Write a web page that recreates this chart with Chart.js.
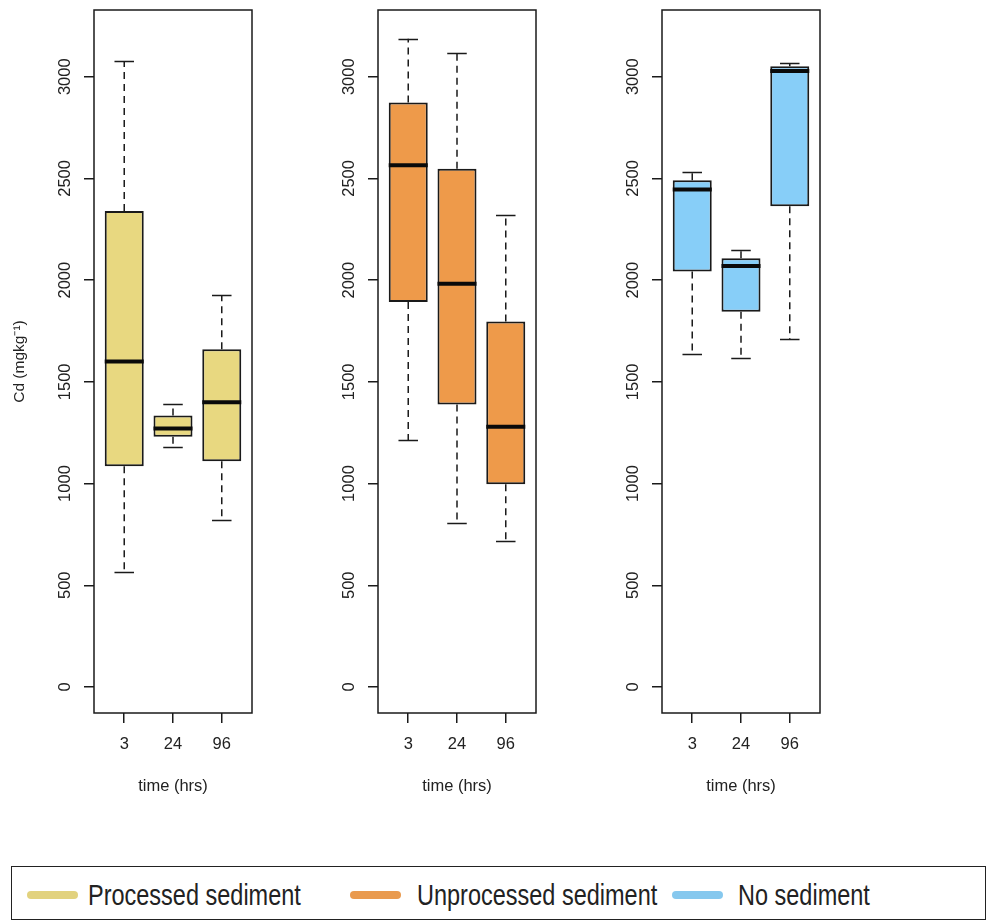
<!DOCTYPE html>
<html>
<head>
<meta charset="utf-8">
<script src="https://cdn.jsdelivr.net/npm/chart.js@4.4.1/dist/chart.umd.min.js"></script>
<style>
  html, body { margin: 0; padding: 0; background: #fff; }
  #wrap { position: relative; width: 991px; height: 924px; background: #fff; overflow: hidden; }
  canvas.panel { position: absolute; top: 0; }
  #legend { position: absolute; left: 11px; top: 866px; width: 975px; height: 54px; border: 1.5px solid #222; box-sizing: border-box; }
  .sw { position: absolute; height: 8px; border-radius: 4px; top: 24px; }
  .lt { position: absolute; top: 11px; font-family: "Liberation Sans", Arial, sans-serif; font-size: 29px; line-height: 34px; color: #222; white-space: nowrap; transform: scaleX(0.81); transform-origin: 0 50%; }
</style>
</head>
<body>
<div id="wrap">
  <canvas id="c0" class="panel" width="284" height="830" style="left:0px;width:284px;height:830px"></canvas>
  <canvas id="c1" class="panel" width="284" height="830" style="left:284px;width:284px;height:830px"></canvas>
  <canvas id="c2" class="panel" width="284" height="830" style="left:568px;width:284px;height:830px"></canvas>
  <div id="legend"></div>
</div>
<script>
// ---- data ----
const timeLabels = ['3', '24', '96'];
const yTicks = [0, 500, 1000, 1500, 2000, 2500, 3000];
const seriesNames = ['Processed sediment', 'Unprocessed sediment', 'No sediment'];

const processedMin    = [565, 1182, 823];
const processedQ1     = [1085, 1230, 1110];
const processedMedian = [1600, 1271, 1400];
const processedQ3     = [2340, 1335, 1660];
const processedMax    = [3075, 1389, 1926];

const unprocessedMin    = [1213, 806, 718];
const unprocessedQ1     = [1893, 1389, 997];
const unprocessedMedian = [2565, 1982, 1279];
const unprocessedQ3     = [2873, 2547, 1797];
const unprocessedMax    = [3187, 3117, 2322];

const noSedimentMin    = [1637, 1619, 1709];
const noSedimentQ1     = [2043, 1844, 2363];
const noSedimentMedian = [2445, 2069, 3028];
const noSedimentQ3     = [2491, 2108, 3051];
const noSedimentMax    = [2531, 2148, 3067];

// ---- styles ----
const fills = ['#E8D880', '#EE9A4A', '#87CEF8'];
const swatchColors = ['#E2D27E', '#E99A4E', '#86C8EE'];
const FONT = '"Liberation Sans", Arial, sans-serif';
const FS = 16.5;

const groups = [
  {min: processedMin, q1: processedQ1, med: processedMedian, q3: processedQ3, max: processedMax},
  {min: unprocessedMin, q1: unprocessedQ1, med: unprocessedMedian, q3: unprocessedQ3, max: unprocessedMax},
  {min: noSedimentMin, q1: noSedimentQ1, med: noSedimentMedian, q3: noSedimentQ3, max: noSedimentMax}
];

const boxExtras = {
  id: 'boxExtras',
  beforeDatasetsDraw(chart) {
    const g = chart.options.plugins.boxExtras.group;
    const xs = chart.scales.x, ys = chart.scales.y, ctx = chart.ctx;
    ctx.save();
    ctx.strokeStyle = '#1a1a1a';
    ctx.lineWidth = 1.5;
    g.med.forEach((m, i) => {
      const xc = xs.getPixelForValue(i + 1);
      ctx.setLineDash([7, 5]);
      ctx.beginPath();
      ctx.moveTo(xc, ys.getPixelForValue(g.q3[i]));
      ctx.lineTo(xc, ys.getPixelForValue(g.max[i]));
      ctx.moveTo(xc, ys.getPixelForValue(g.q1[i]));
      ctx.lineTo(xc, ys.getPixelForValue(g.min[i]));
      ctx.stroke();
      ctx.setLineDash([]);
      const xl = xs.getPixelForValue(i + 1 - 0.2), xr = xs.getPixelForValue(i + 1 + 0.2);
      ctx.beginPath();
      [g.max[i], g.min[i]].forEach(v => {
        const y = Math.round(ys.getPixelForValue(v)) + 0.5;
        ctx.moveTo(xl, y); ctx.lineTo(xr, y);
      });
      ctx.stroke();
    });
    ctx.restore();
  },
  afterDatasetsDraw(chart) {
    const g = chart.options.plugins.boxExtras.group;
    const xs = chart.scales.x, ys = chart.scales.y, ctx = chart.ctx;
    ctx.save();
    ctx.strokeStyle = '#0a0a0a';
    ctx.lineWidth = 4;
    g.med.forEach((m, i) => {
      const y = ys.getPixelForValue(m);
      ctx.beginPath();
      ctx.moveTo(xs.getPixelForValue(i + 1 - 0.4), y);
      ctx.lineTo(xs.getPixelForValue(i + 1 + 0.4), y);
      ctx.stroke();
    });
    const a = chart.chartArea;
    ctx.strokeStyle = '#1a1a1a';
    ctx.lineWidth = 1.5;
    ctx.strokeRect(a.left, a.top, a.right - a.left, a.bottom - a.top);
    ctx.restore();
  }
};

groups.forEach((g, p) => {
  new Chart(document.getElementById('c' + p), {
    type: 'bar',
    data: {
      datasets: [{
        data: g.q1.map((q, i) => ({x: i + 1, y: [q, g.q3[i]]})),
        backgroundColor: fills[p],
        borderColor: '#1a1a1a',
        borderWidth: 2,
        borderSkipped: false,
        barPercentage: 0.8,
        categoryPercentage: 1.0
      }]
    },
    options: {
      responsive: false,
      animation: false,
      devicePixelRatio: 1,
      layout: {padding: {top: 10, right: 32, left: 0, bottom: 0}},
      plugins: {legend: {display: false}, tooltip: {enabled: false}, boxExtras: {group: g}},
      scales: {
        x: {
          type: 'linear', min: 0.38, max: 3.62, offset: false,
          afterBuildTicks: s => { s.ticks = timeLabels.map((t, i) => ({value: i + 1})); },
          afterFit: s => { s.height = 117; },
          ticks: {callback: v => timeLabels[Math.round(v) - 1], font: {family: FONT, size: FS}, color: '#222', padding: 12, maxRotation: 0, autoSkip: false},
          grid: {display: true, offset: false, drawOnChartArea: false, drawTicks: true, tickLength: 10, color: '#1a1a1a', lineWidth: 1.5},
          border: {display: false},
          title: {display: true, text: 'time (hrs)', font: {family: FONT, size: FS}, color: '#222', padding: {top: 0, bottom: 34}}
        },
        y: {
          min: -128, max: 3328,
          afterBuildTicks: s => { s.ticks = yTicks.map(v => ({value: v})); },
          afterFit: s => { s.width = 94; },
          ticks: {callback: v => String(v), font: {family: FONT, size: FS}, color: '#222', minRotation: 90, maxRotation: 90, crossAlign: 'center', padding: 0},
          grid: {display: true, drawOnChartArea: false, drawTicks: true, tickLength: 10, color: '#1a1a1a', lineWidth: 1.5},
          border: {display: false},
          title: {display: p === 0, text: 'Cd (mgkg\u207B\u00B9)', font: {family: FONT, size: 15.5}, color: '#222', padding: {top: 10, bottom: 0}}
        }
      }
    },
    plugins: [boxExtras]
  });
});

// ---- legend ----
const legend = document.getElementById('legend');
const swLeft = [15, 338, 660];
const txtLeft = [76, 405, 726];
seriesNames.forEach((n, i) => {
  const s = document.createElement('div');
  s.className = 'sw';
  s.style.left = swLeft[i] + 'px';
  s.style.width = '51px';
  s.style.background = swatchColors[i];
  legend.appendChild(s);
  const t = document.createElement('div');
  t.className = 'lt';
  t.style.left = txtLeft[i] + 'px';
  t.textContent = n;
  legend.appendChild(t);
});
</script>
</body>
</html>
